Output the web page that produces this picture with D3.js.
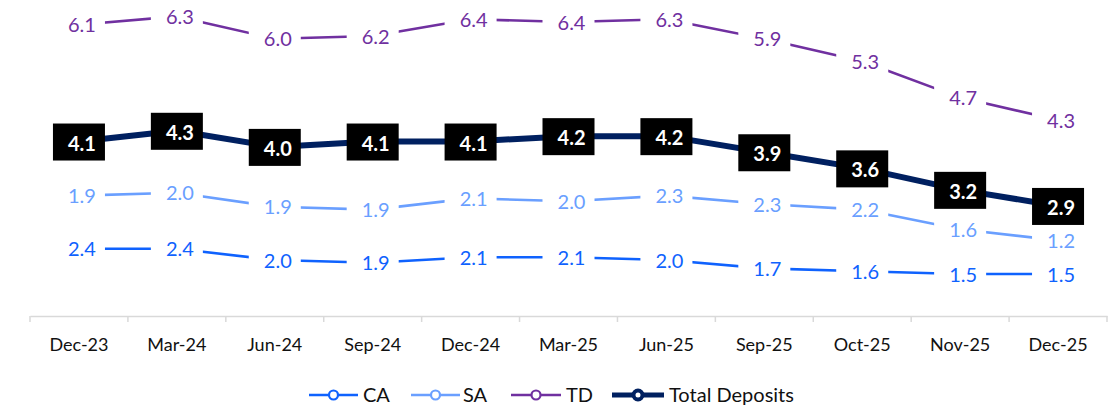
<!DOCTYPE html>
<html><head><meta charset="utf-8">
<script src="https://cdn.jsdelivr.net/npm/d3@7"></script>
<style>body{margin:0;background:#fff}svg{display:block;font-family:Lato,"Open Sans",sans-serif}</style>
</head><body><svg id="c" width="1116" height="408"></svg>
<script>
const categories = ["Dec-23","Mar-24","Jun-24","Sep-24","Dec-24","Mar-25","Jun-25","Sep-25","Oct-25","Nov-25","Dec-25"];
const ca    = [2.4,2.4,2.0,1.9,2.1,2.1,2.0,1.7,1.6,1.5,1.5];
const sa    = [1.9,2.0,1.9,1.9,2.1,2.0,2.3,2.3,2.2,1.6,1.2];
const td    = [6.1,6.3,6.0,6.2,6.4,6.4,6.3,5.9,5.3,4.7,4.3];
const total = [4.1,4.3,4.0,4.1,4.1,4.2,4.2,3.9,3.6,3.2,2.9];
const seriesNames = ["CA","SA","TD","Total Deposits"];
const colors = {CA:"#0f62fe", SA:"#6a9fff", TD:"#7030a0", "Total Deposits":"#002060"};

const svg = d3.select("#c");
const x = d3.scaleBand().domain(categories).range([30, 1107]);
const cx = d => x(d) + x.bandwidth()/2;
const yPrimary = d3.scaleLinear().domain([0, 11]).range([316, 8]);      // stacked CA / SA / TD
const ySecondary = d3.scaleLinear().domain([0.85, 6.55]).range([316, 10]); // Total deposits

// stacked series (CA, SA, TD stacked as in the source chart)
const rows = categories.map((c,i) => ({cat:c, CA:ca[i], SA:sa[i], TD:td[i]}));
const stack = d3.stack().keys(["CA","SA","TD"])(rows);

const series = stack.map(s => ({
  name: s.key,
  pts: s.map((p,i) => ({cat: categories[i], y: yPrimary(p[1]), v: rows[i][s.key]}))
}));
series.push({name:"Total Deposits", pts: categories.map((c,i) => ({cat:c, y: ySecondary(total[i]), v: total[i]}))});

// axis
const axisG = svg.append("g").attr("transform","translate(0,316)")
  .call(d3.axisBottom(x).tickSize(0).tickFormat(""));
axisG.select(".domain").attr("stroke","#d9d9d9").attr("stroke-width",1.5);
const bounds = categories.map(c => x(c)).concat([x(categories[categories.length-1]) + x.bandwidth()]);
svg.append("g").selectAll("line").data(bounds).join("line")
  .attr("x1", d=>d).attr("x2", d=>d).attr("y1",316).attr("y2",322)
  .attr("stroke","#d9d9d9").attr("stroke-width",1.5);
svg.append("g").selectAll("text").data(categories).join("text")
  .attr("x", d => cx(d)).attr("y", 351).attr("text-anchor","middle")
  .attr("font-size",18).attr("fill","#111").text(d=>d);

// lines
const line = d3.line().x(d => cx(d.cat)).y(d => d.y);
series.forEach(s => {
  svg.append("path").datum(s.pts).attr("d", line).attr("fill","none")
    .attr("stroke", colors[s.name])
    .attr("stroke-width", s.name === "Total Deposits" ? 6 : 2.6)
    .attr("stroke-linejoin","round");
});

// labels
series.forEach(s => {
  const isTot = s.name === "Total Deposits";
  const g = svg.append("g");
  const lg = g.selectAll("g").data(s.pts).join("g")
    .attr("transform", d => `translate(${cx(d.cat)},${d.y})`);
  lg.append("rect").attr("x",-26).attr("y",-18).attr("width",52).attr("height",37)
    .attr("fill", isTot ? "#000" : "#fff");
  lg.append("text").attr("x",3).attr("y",isTot ? 9 : 7.5).attr("text-anchor","middle")
    .attr("font-size",20).attr("font-weight", isTot ? 700 : 400)
    .attr("fill", isTot ? "#fff" : colors[s.name])
    .text(d => d.v.toFixed(1));
});

// legend
const legendItems = [
  {name:"CA", x1:309, x2:358, tx:363},
  {name:"SA", x1:411, x2:460, tx:463},
  {name:"TD", x1:511, x2:561, tx:566},
  {name:"Total Deposits", x1:612, x2:664, tx:669}
];
const ly = 395;
const lgG = svg.append("g").selectAll("g").data(legendItems).join("g");
lgG.append("line").attr("x1",d=>d.x1).attr("x2",d=>d.x2).attr("y1",ly).attr("y2",ly)
  .attr("stroke", d=>colors[d.name]).attr("stroke-width", d=> d.name==="Total Deposits"?5:2.5);
lgG.append("circle").attr("cx", d=>(d.x1+d.x2)/2).attr("cy", ly)
  .attr("r", d=> d.name==="Total Deposits"?4.5:4.5).attr("fill","#fff")
  .attr("stroke", d=>colors[d.name]).attr("stroke-width", d=> d.name==="Total Deposits"?4:2.2);
lgG.append("text").attr("x", d=>d.tx).attr("y", ly+7).attr("font-size",20).attr("fill","#111")
  .text(d=>d.name);
</script></body></html>
